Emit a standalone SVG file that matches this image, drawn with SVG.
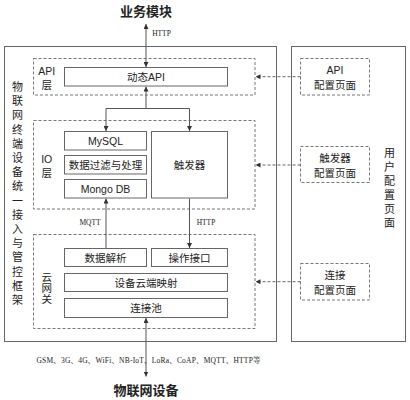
<svg xmlns="http://www.w3.org/2000/svg" width="410" height="400" viewBox="0 0 410 400">
<defs>
<style>
.solid{fill:#fff;stroke:#666;stroke-width:1}
.frame{fill:none;stroke:#666;stroke-width:1}
.dash{fill:none;stroke:#777;stroke-width:1;stroke-dasharray:3 2}
.t{font-family:"Liberation Sans","Noto Sans CJK SC",sans-serif;font-size:10.5px;fill:#222;text-anchor:middle;dominant-baseline:central}
.v{font-family:"Liberation Sans","Noto Sans CJK SC",sans-serif;font-size:11px;fill:#222;text-anchor:middle;dominant-baseline:central}
.big{font-family:"Liberation Sans","Noto Sans CJK SC",sans-serif;font-size:13px;font-weight:bold;fill:#222;text-anchor:middle;dominant-baseline:central}
.s{font-family:"Liberation Serif","Noto Serif CJK SC","Noto Sans CJK SC",serif;font-size:7.5px;fill:#222;text-anchor:middle;dominant-baseline:central}
.line{fill:none;stroke:#555;stroke-width:1}
.dline{fill:none;stroke:#666;stroke-width:1;stroke-dasharray:3 2}
</style>
<marker id="ah" viewBox="0 0 10 10" refX="10" refY="5" markerWidth="5" markerHeight="5" orient="auto-start-reverse" markerUnits="userSpaceOnUse">
<path d="M0,0 L10,5 L0,10 z" fill="#333"/>
</marker>
</defs>

<g id="title-top"><text class="big" x="146" y="11">业务模块</text></g>
<g id="title-bottom"><text class="big" x="146" y="390">物联网设备</text></g>

<g id="framework">
<rect class="frame" x="4.5" y="46.5" width="272" height="295"/>
<text class="v" x="17.5" y="87">物</text>
<text class="v" x="17.5" y="101.2">联</text>
<text class="v" x="17.5" y="115.4">网</text>
<text class="v" x="17.5" y="129.6">终</text>
<text class="v" x="17.5" y="143.8">端</text>
<text class="v" x="17.5" y="158">设</text>
<text class="v" x="17.5" y="172.2">备</text>
<text class="v" x="17.5" y="186.4">统</text>
<text class="v" x="17.5" y="200.6">一</text>
<text class="v" x="17.5" y="214.8">接</text>
<text class="v" x="17.5" y="229">入</text>
<text class="v" x="17.5" y="243.2">与</text>
<text class="v" x="17.5" y="257.4">管</text>
<text class="v" x="17.5" y="271.6">控</text>
<text class="v" x="17.5" y="285.8">框</text>
<text class="v" x="17.5" y="300">架</text>
</g>

<g id="user-config">
<rect class="frame" x="291.5" y="46.5" width="114" height="295"/>
<text class="v" x="389.5" y="153.3">用</text>
<text class="v" x="389.5" y="167.3">户</text>
<text class="v" x="389.5" y="181.3">配</text>
<text class="v" x="389.5" y="195.3">置</text>
<text class="v" x="389.5" y="209.3">页</text>
<text class="v" x="389.5" y="223.3">面</text>
</g>

<g id="api-layer">
<rect class="dash" x="33.5" y="58.5" width="221.5" height="36.5"/>
<text class="t" x="46.7" y="71">API</text>
<text class="t" x="46.7" y="85">层</text>
</g>
<g id="dynamic-api"><rect class="solid" x="64.5" y="67.5" width="163" height="18.5"/><text class="t" x="146" y="77">动态API</text></g>

<g id="io-layer">
<rect class="dash" x="33.5" y="120.5" width="221.5" height="88.5"/>
<text class="t" x="46.7" y="159">IO</text>
<text class="t" x="46.7" y="173">层</text>
</g>
<g id="mysql"><rect class="solid" x="64.5" y="131.5" width="82" height="18.5"/><text class="t" x="105.5" y="141">MySQL</text></g>
<g id="filter"><rect class="solid" x="64.5" y="155.5" width="82" height="18.5"/><text class="t" x="105.5" y="165">数据过滤与处理</text></g>
<g id="mongodb"><rect class="solid" x="64.5" y="179.5" width="82" height="18.5"/><text class="t" x="105.5" y="189">Mongo DB</text></g>
<g id="trigger"><rect class="solid" x="151.5" y="131.5" width="76" height="66.5"/><text class="t" x="189.5" y="165">触发器</text></g>

<g id="gateway-layer">
<rect class="dash" x="33.5" y="234.5" width="221.5" height="94"/>
<text class="t" x="46.7" y="277">云</text>
<text class="t" x="46.7" y="288">网</text>
<text class="t" x="46.7" y="299">关</text>
</g>
<g id="parse"><rect class="solid" x="64.5" y="248.5" width="82" height="18"/><text class="t" x="105.5" y="257.5">数据解析</text></g>
<g id="op-interface"><rect class="solid" x="151.5" y="248.5" width="76" height="18"/><text class="t" x="189.5" y="257.5">操作接口</text></g>
<g id="mapping"><rect class="solid" x="64.5" y="273.5" width="163" height="18"/><text class="t" x="146" y="282.5">设备云端映射</text></g>
<g id="pool"><rect class="solid" x="64.5" y="298.5" width="163" height="19"/><text class="t" x="146" y="308">连接池</text></g>

<g id="api-config"><rect class="dash" x="300.5" y="58.5" width="69" height="36.5"/><text class="t" x="335" y="70">API</text><text class="t" x="335" y="85">配置页面</text></g>
<g id="trigger-config"><rect class="dash" x="300.5" y="146.5" width="69" height="36"/><text class="t" x="335" y="157.7">触发器</text><text class="t" x="335" y="172.7">配置页面</text></g>
<g id="conn-config"><rect class="dash" x="300.5" y="263.5" width="69" height="36.5"/><text class="t" x="335" y="275">连接</text><text class="t" x="335" y="289.5">配置页面</text></g>

<g id="connectors">
<line class="line" x1="146" y1="24" x2="146" y2="67" marker-start="url(#ah)" marker-end="url(#ah)"/>
<text class="s" x="161.5" y="33">HTTP</text>
<polyline class="line" points="146,86.5 146,108.5 106,108.5 106,131" marker-start="url(#ah)" marker-end="url(#ah)"/>
<polyline class="line" points="146,108.5 189.5,108.5 189.5,131" marker-end="url(#ah)"/>
<line class="line" x1="106" y1="248" x2="106" y2="198.5" marker-end="url(#ah)"/>
<text class="s" x="90" y="222.3">MQTT</text>
<line class="line" x1="189.5" y1="198.5" x2="189.5" y2="248" marker-end="url(#ah)"/>
<text class="s" x="206" y="222.3">HTTP</text>
<line class="line" x1="146" y1="318" x2="146" y2="376.5" marker-start="url(#ah)" marker-end="url(#ah)"/>
<text class="s" x="148.5" y="360.5" textLength="224" lengthAdjust="spacing">GSM、3G、4G、WiFi、NB-IoT、LoRa、CoAP、MQTT、HTTP等</text>
<line class="dline" x1="300.5" y1="76.7" x2="255.5" y2="76.7" marker-end="url(#ah)"/>
<line class="dline" x1="300.5" y1="165" x2="255.5" y2="165" marker-end="url(#ah)"/>
<line class="dline" x1="300.5" y1="281.7" x2="255.5" y2="281.7" marker-end="url(#ah)"/>
</g>
</svg>
